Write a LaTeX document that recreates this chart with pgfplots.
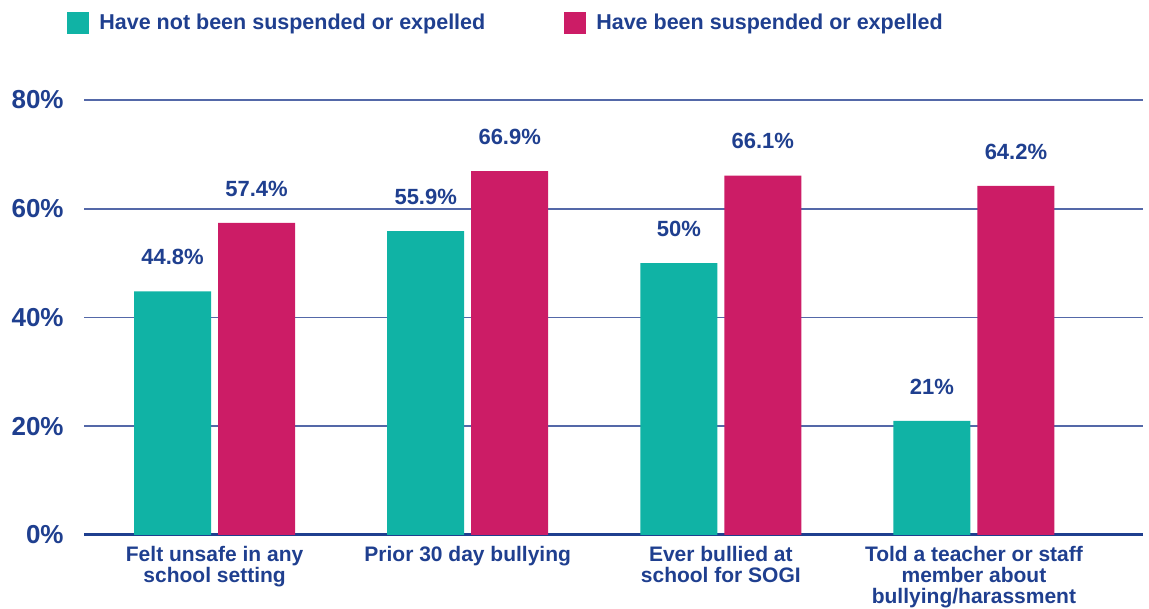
\documentclass[border=0pt]{standalone}
\usepackage{pgfplots}
\pgfplotsset{compat=1.18}
\usepackage{fontspec}
\setmainfont{Liberation Sans}
\usetikzlibrary{calc}
\definecolor{cteal}{RGB}{16,179,165}
\definecolor{cmag}{RGB}{204,28,102}
\definecolor{navy}{RGB}{31,63,143}
\definecolor{gridc}{RGB}{84,104,168}
\begin{document}
\begin{tikzpicture}
\begin{axis}[
  width=529.5pt, height=217.5pt, scale only axis,
  ybar=3.5pt, bar width=38.5pt,
  enlargelimits=false,
  xmin=-0.516, xmax=3.668, ymin=0, ymax=80,
  axis x line*=bottom, axis y line*=left,
  x axis line style={navy, line width=1.5pt, -},
  y axis line style={draw=none},
  xtick={0,1,2,3},
  xticklabels={{Felt unsafe in any\\school setting},{Prior 30 day bullying},{Ever bullied at\\school for SOGI},{Told a teacher or staff\\member about\\bullying/harassment}},
  ytick={0,20,40,60,80},
  yticklabel={\pgfmathprintnumber{\tick}\%},
  /pgf/number format/assume math mode=true,
  ymajorgrids,
  grid style={gridc, line width=0.8pt},
  major tick length=0pt,
  tick style={draw=none},
  yticklabel style={font=\fontsize{13}{13}\selectfont\bfseries, text=navy, inner sep=0pt, anchor=east, xshift=-10pt},
  xticklabel style={font=\fontsize{10.5}{10.5}\selectfont\bfseries, text=navy, inner sep=0pt, anchor=north, align=center, yshift=-5.5pt},
  nodes near coords={\pgfmathprintnumber{\pgfplotspointmeta}\%},
  every node near coord/.append style={font=\fontsize{11}{11}\selectfont\bfseries, text=navy, anchor=south, inner sep=0pt, yshift=13pt},
  legend columns=2,
  legend style={at={(0,1)}, anchor=west, xshift=-8.5pt, yshift=38.5pt, draw=none, fill=none, inner sep=0pt,
    font=\fontsize{10.75}{10.75}\selectfont\bfseries, text=navy, nodes={inner sep=0pt},
    /tikz/every odd column/.append style={column sep=5pt},
    /tikz/every even column/.append style={column sep=39.5pt}},
  clip=false,
]
\addplot[fill=cteal, draw=none, legend image code/.code={\fill[cteal] (0pt,-5.5pt) rectangle (11pt,5.5pt);}]
  coordinates {(0,44.8) (1,55.9) (2,50) (3,21)};
\addlegendentry{Have not been suspended or expelled}
\addplot[fill=cmag, draw=none, legend image code/.code={\fill[cmag] (0pt,-5.5pt) rectangle (11pt,5.5pt);}]
  coordinates {(0,57.4) (1,66.9) (2,66.1) (3,64.2)};
\addlegendentry{Have been suspended or expelled}
\coordinate (bl) at (rel axis cs:0,0);
\coordinate (tr) at (rel axis cs:1,1);
\end{axis}
\pgfresetboundingbox
\path ($(bl)+(-42pt,-37pt)$) rectangle ($(tr)+(3pt,50pt)$);
\end{tikzpicture}
\end{document}
